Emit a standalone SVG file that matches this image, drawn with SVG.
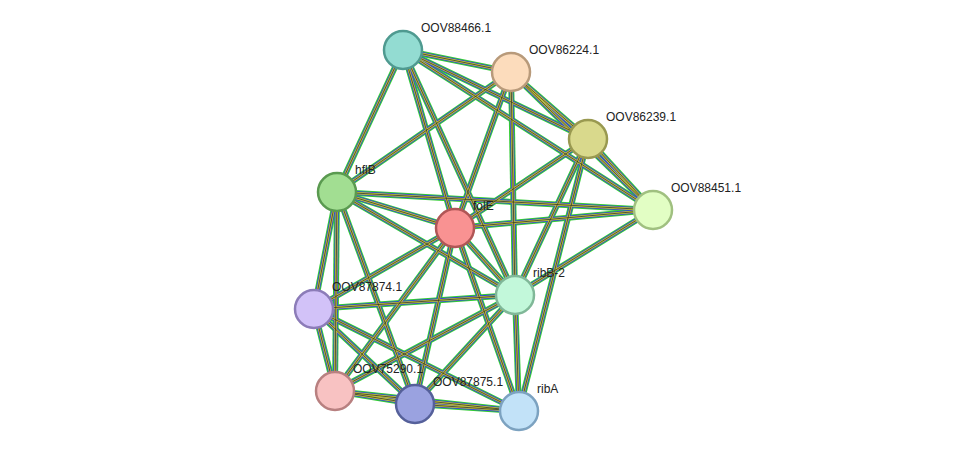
<svg xmlns="http://www.w3.org/2000/svg" xmlns:xlink="http://www.w3.org/1999/xlink" width="976" height="457" viewBox="0 0 976 457">
<style>
.e{fill:none}
.a{stroke:#33cc33;stroke-width:6}
.b{stroke:#3344dd;stroke-width:4}
.c{stroke:#cccc33;stroke-width:2.4}
.d{stroke:#333333;stroke-width:0.8}
.n{stroke-width:2.5}
text{font-family:"Liberation Sans",Arial,sans-serif;font-size:12px;fill:#222}
</style>
<defs>
<g id="paths">
<path id="e1" d="M403,50L511,72"/><path id="e2" d="M403,50L588,139"/><path id="e3" d="M403,50L653,210"/>
<path id="e4" d="M403,50L337,192"/><path id="e5" d="M403,50L455,228"/><path id="e6" d="M403,50L515,295"/>
<path id="e7" d="M511,72L588,139"/><path id="e8" d="M511,72L653,210"/><path id="e9" d="M511,72L337,192"/>
<path id="e10" d="M511,72L455,228"/><path id="e11" d="M511,72L515,295"/><path id="e12" d="M588,139L653,210"/>
<path id="e13" d="M588,139L455,228"/><path id="e14" d="M588,139L515,295"/><path id="e15" d="M588,139L519,411"/>
<path id="e16" d="M653,210L455,228"/><path id="e17" d="M653,210L337,192"/><path id="e18" d="M653,210L515,295"/>
<path id="e19" d="M337,192L455,228"/><path id="e20" d="M337,192L314,309"/><path id="e21" d="M337,192L335,391"/>
<path id="e22" d="M337,192L415,404"/><path id="e23" d="M337,192L515,295"/><path id="e24" d="M455,228L515,295"/>
<path id="e25" d="M455,228L314,309"/><path id="e26" d="M455,228L335,391"/><path id="e27" d="M455,228L415,404"/>
<path id="e28" d="M455,228L519,411"/><path id="e29" d="M515,295L314,309"/><path id="e30" d="M515,295L335,391"/>
<path id="e31" d="M515,295L415,404"/><path id="e32" d="M515,295L519,411"/><path id="e33" d="M314,309L335,391"/>
<path id="e34" d="M314,309L415,404"/><path id="e35" d="M314,309L519,411"/><path id="e36" d="M335,391L415,404"/>
<path id="e37" d="M335,391L519,411"/><path id="e38" d="M415,404L519,411"/>
</g>
</defs>
<g id="connectors" class="e">
<use xlink:href="#paths" class="a"/>
<use xlink:href="#paths" class="b"/>
<use xlink:href="#paths" class="c"/>
<use xlink:href="#paths" class="d"/>
</g>
<g id="OOV88466.1"><circle class="n" cx="403" cy="50" r="19" fill="#93dcd2" stroke="#4f9a90"/><text x="421" y="32">OOV88466.1</text></g>
<g id="OOV86224.1"><circle class="n" cx="511" cy="72" r="19" fill="#fcdcbc" stroke="#b89a7a"/><text x="529" y="54">OOV86224.1</text></g>
<g id="OOV86239.1"><circle class="n" cx="588" cy="139" r="19" fill="#d9d98c" stroke="#999950"/><text x="606" y="121">OOV86239.1</text></g>
<g id="OOV88451.1"><circle class="n" cx="653" cy="210" r="19" fill="#e2fec4" stroke="#a0c080"/><text x="671" y="192">OOV88451.1</text></g>
<g id="hflB"><circle class="n" cx="337" cy="192" r="19" fill="#a2de92" stroke="#5a9a50"/><text x="355" y="174">hflB</text></g>
<g id="folE"><circle class="n" cx="455" cy="228" r="19" fill="#f99292" stroke="#b05656"/><text x="473" y="210">folE</text></g>
<g id="ribB-2"><circle class="n" cx="515" cy="295" r="19" fill="#c2f8da" stroke="#80b898"/><text x="533" y="277">ribB-2</text></g>
<g id="OOV87874.1"><circle class="n" cx="314" cy="309" r="19" fill="#d2c2f8" stroke="#8c7cb8"/><text x="332" y="291">OOV87874.1</text></g>
<g id="OOV75290.1"><circle class="n" cx="335" cy="391" r="19" fill="#f8c2c2" stroke="#b88080"/><text x="353" y="373">OOV75290.1</text></g>
<g id="OOV87875.1"><circle class="n" cx="415" cy="404" r="19" fill="#9aa2e0" stroke="#55609a"/><text x="433" y="386">OOV87875.1</text></g>
<g id="ribA"><circle class="n" cx="519" cy="411" r="19" fill="#c2e2f8" stroke="#7ca2c0"/><text x="537" y="393">ribA</text></g>
</svg>
